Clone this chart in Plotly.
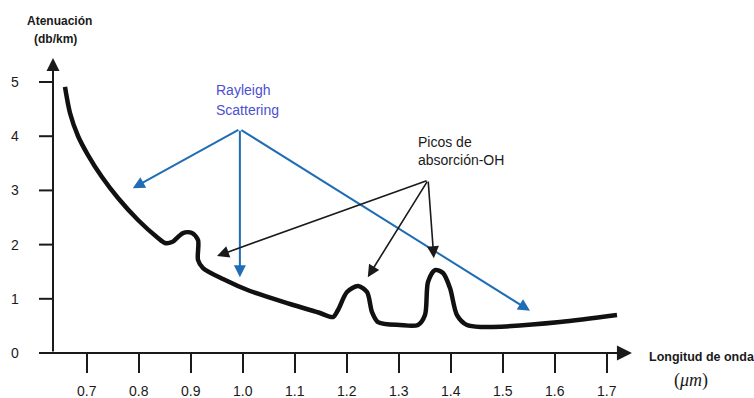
import plotly.graph_objects as go

# ---- data ----
curve_x = [0.6577, 0.6673, 0.6827, 0.7019, 0.7288, 0.7596, 0.7981, 0.8365, 0.8500, 0.8635,
           0.8846, 0.9019, 0.9135, 0.9135, 0.9231, 0.9615, 1.0135, 1.0904, 1.1481,
           1.1731, 1.1827, 1.2000, 1.2212, 1.2385, 1.2481, 1.2596, 1.3019, 1.3365, 1.3500,
           1.3558, 1.3692, 1.3846, 1.3981, 1.4115, 1.4308, 1.4615, 1.4808, 1.6096, 1.7192]
curve_y = [4.908, 4.428, 4.004, 3.653, 3.247, 2.860, 2.454, 2.122, 2.030, 2.048,
           2.214, 2.214, 2.085, 1.716, 1.568, 1.365, 1.144, 0.904, 0.738,
           0.664, 0.793, 1.125, 1.236, 1.125, 0.756, 0.572, 0.517, 0.517, 0.701,
           1.310, 1.531, 1.476, 1.199, 0.701, 0.517, 0.480, 0.480, 0.572, 0.701]

x_ticks = [0.7, 0.8, 0.9, 1.0, 1.1, 1.2, 1.3, 1.4, 1.5, 1.6, 1.7]
x_tick_labels = ["0.7", "0.8", "0.9", "1.0", "1.1", "1.2", "1.3", "1.4", "1.5", "1.6", "1.7"]
y_ticks = [0, 1, 2, 3, 4, 5]
y_tick_labels = ["0", "1", "2", "3", "4", "5"]

rayleigh_origin = (0.994, 4.13)
rayleigh_targets = [(0.788, 3.04), (0.994, 1.40), (1.552, 0.78)]
oh_origin = (1.356, 3.19)
oh_targets = [(0.950, 1.79), (1.240, 1.40), (1.367, 1.75)]

# ---- geometry (data units) ----
X_RANGE = [0.5327, 1.9827]
Y_RANGE = [-0.830, 6.513]
YAXIS_X = 0.6346
XAXIS_LEFT = 0.6077
XAXIS_TIP = 1.748
YAXIS_TIP = 5.443

FONT = "Arial, Liberation Sans, sans-serif"
BLUE = "#1f6db4"
TXTBLUE = "#4b50d2"
DARK = "#1a1a1a"

fig = go.Figure()
fig.add_trace(go.Scatter(x=curve_x, y=curve_y, mode="lines",
                         line=dict(color="#111111", width=4.5, shape="spline", smoothing=0.8),
                         hoverinfo="skip", showlegend=False))

shapes = []
for yv in y_ticks:
    shapes.append(dict(type="line", xref="x", yref="y", x0=XAXIS_LEFT, x1=YAXIS_X, y0=yv, y1=yv,
                       line=dict(color=DARK, width=2)))
for xv in x_ticks:
    shapes.append(dict(type="line", xref="x", yref="y", x0=xv, x1=xv, y0=0, y1=-0.369,
                       line=dict(color=DARK, width=2)))

ann = []
ann.append(dict(x=XAXIS_TIP, y=0, ax=XAXIS_LEFT, ay=0, xref="x", yref="y", axref="x", ayref="y",
                text="", showarrow=True, arrowhead=2, arrowsize=1.5, arrowwidth=2, arrowcolor=DARK))
ann.append(dict(x=YAXIS_X, y=YAXIS_TIP, ax=YAXIS_X, ay=0, xref="x", yref="y", axref="x", ayref="y",
                text="", showarrow=True, arrowhead=2, arrowsize=1.3, arrowwidth=2, arrowcolor=DARK))
for tx, ty in rayleigh_targets:
    ann.append(dict(x=tx, y=ty, ax=rayleigh_origin[0], ay=rayleigh_origin[1], xref="x", yref="y",
                    axref="x", ayref="y", text="", showarrow=True, arrowhead=2, arrowsize=1.2,
                    arrowwidth=2, arrowcolor=BLUE))
for tx, ty in oh_targets:
    ann.append(dict(x=tx, y=ty, ax=oh_origin[0], ay=oh_origin[1], xref="x", yref="y",
                    axref="x", ayref="y", text="", showarrow=True, arrowhead=2, arrowsize=1.5,
                    arrowwidth=1.6, arrowcolor=DARK))
for xv, lab in zip(x_ticks, x_tick_labels):
    ann.append(dict(x=xv, y=-0.70, xref="x", yref="y", text=lab, showarrow=False,
                    font=dict(family=FONT, size=14, color=DARK), xanchor="center", yanchor="middle"))
for yv, lab in zip(y_ticks, y_tick_labels):
    ann.append(dict(x=0.5615, y=yv, xref="x", yref="y", text=lab, showarrow=False,
                    font=dict(family=FONT, size=14, color=DARK), xanchor="center", yanchor="middle"))
ann.append(dict(x=0.648, y=6.125, xref="x", yref="y", text="<b>Atenuación</b>", showarrow=False,
                font=dict(family=FONT, size=12, color=DARK), xanchor="center", yanchor="middle"))
ann.append(dict(x=0.6394, y=5.793, xref="x", yref="y", text="<b>(db/km)</b>", showarrow=False,
                font=dict(family=FONT, size=12, color=DARK), xanchor="center", yanchor="middle"))
ann.append(dict(x=1.777, y=-0.074, xref="x", yref="y", text="<b>Longitud de onda</b>", showarrow=False,
                font=dict(family=FONT, size=12.5, color=DARK), xanchor="left", yanchor="middle"))
ann.append(dict(x=1.862, y=-0.498, xref="x", yref="y", text="(<i>μm</i>)", showarrow=False,
                font=dict(family="Liberation Serif, DejaVu Serif, serif", size=18, color=DARK),
                xanchor="center", yanchor="middle"))
ann.append(dict(x=0.944, y=4.852, xref="x", yref="y", text="Rayleigh", showarrow=False,
                font=dict(family=FONT, size=14, color=TXTBLUE), xanchor="left", yanchor="middle"))
ann.append(dict(x=0.944, y=4.483, xref="x", yref="y", text="Scattering", showarrow=False,
                font=dict(family=FONT, size=14, color=TXTBLUE), xanchor="left", yanchor="middle"))
ann.append(dict(x=1.333, y=3.893, xref="x", yref="y", text="Picos de", showarrow=False,
                font=dict(family=FONT, size=14, color=DARK), xanchor="left", yanchor="middle"))
ann.append(dict(x=1.333, y=3.561, xref="x", yref="y", text="absorción-OH", showarrow=False,
                font=dict(family=FONT, size=14, color=DARK), xanchor="left", yanchor="middle"))

fig.update_layout(
    width=754, height=398,
    margin=dict(l=0, r=0, t=0, b=0),
    paper_bgcolor="white", plot_bgcolor="white",
    xaxis=dict(range=X_RANGE, visible=False, fixedrange=True),
    yaxis=dict(range=Y_RANGE, visible=False, fixedrange=True),
    shapes=shapes, annotations=ann, showlegend=False,
)

fig.write_html("out.html", config={"displayModeBar": False},
               post_script="document.body.style.margin='0';")
